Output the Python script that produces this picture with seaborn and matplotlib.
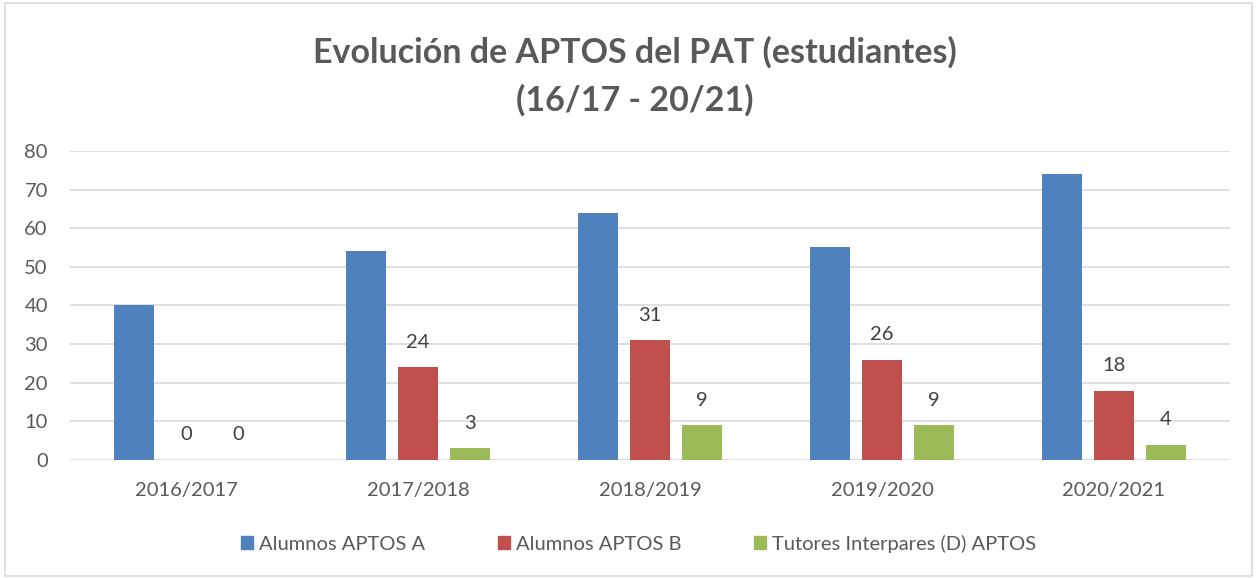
import pandas as pd
import matplotlib.pyplot as plt
import seaborn as sns
from matplotlib.patches import Rectangle

# ----------------------------------------
# Data
# ----------------------------------------
years = ["2016/2017", "2017/2018", "2018/2019", "2019/2020", "2020/2021"]
series = ["Alumnos APTOS A", "Alumnos APTOS B", "Tutores Interpares (D) APTOS"]
aptos_a = [40, 54, 64, 55, 74]
aptos_b = [0, 24, 31, 26, 18]
tutores_d = [0, 3, 9, 9, 4]
colors = ["#4F81BD", "#C0504D", "#9BBB59"]

df = pd.DataFrame({
    "year": years * 3,
    "serie": [s for s in series for _ in years],
    "value": aptos_a + aptos_b + tutores_d,
})

# ----------------------------------------
# Plot
# ----------------------------------------
sns.set_style("white")
plt.rcParams["font.family"] = ["Lato", "DejaVu Sans"]
text_gray = "#595959"

fig = plt.figure(figsize=(12.57, 5.78), dpi=100)
ax = fig.add_axes([0.0557, 0.204, 0.9228, 0.535])

sns.barplot(data=df, x="year", y="value", hue="serie", hue_order=series,
            palette=colors, width=0.672, gap=0.23, saturation=1,
            edgecolor="none", ax=ax)

ax.set_ylim(0, 80)
ax.set_yticks(range(0, 81, 10))
ax.set_xlim(-0.5, len(years) - 0.5)
ax.set_xlabel("")
ax.set_ylabel("")
ax.yaxis.grid(True, color="#D9D9D9", linewidth=1.2)
ax.set_axisbelow(True)
for side in ["top", "right", "left", "bottom"]:
    ax.spines[side].set_visible(False)
ax.tick_params(axis="both", length=0, labelsize=14.5, labelcolor=text_gray)
ax.tick_params(axis="x", pad=16)
ax.tick_params(axis="y", pad=16)

# data labels only on the B and D series
for cont in ax.containers[1:]:
    ax.bar_label(cont, fmt="%d", padding=12, fontsize=14.5, color="#404040")

ax.get_legend().remove()
handles = [Rectangle((0, 0), 1, 1, color=c) for c in colors]
fig.legend(handles, series, loc="center", bbox_to_anchor=(0.508, 0.059), ncol=3,
           frameon=False, fontsize=14.5, labelcolor=text_gray,
           handlelength=0.6, handleheight=0.6, handletextpad=0.3,
           columnspacing=3.6)

fig.text(0.505, 0.91, "Evolución de APTOS del PAT (estudiantes)",
         ha="center", va="center", fontsize=24.5, fontweight="bold", color=text_gray)
fig.text(0.505, 0.827, "(16/17 - 20/21)",
         ha="center", va="center", fontsize=24.5, fontweight="bold", color=text_gray)

# chart border
fig.patches.append(Rectangle((0.004, 0.004), 0.992, 0.99, transform=fig.transFigure,
                             fill=False, edgecolor="#D9D9D9", linewidth=1.2))

fig.savefig("out.png", dpi=100)
